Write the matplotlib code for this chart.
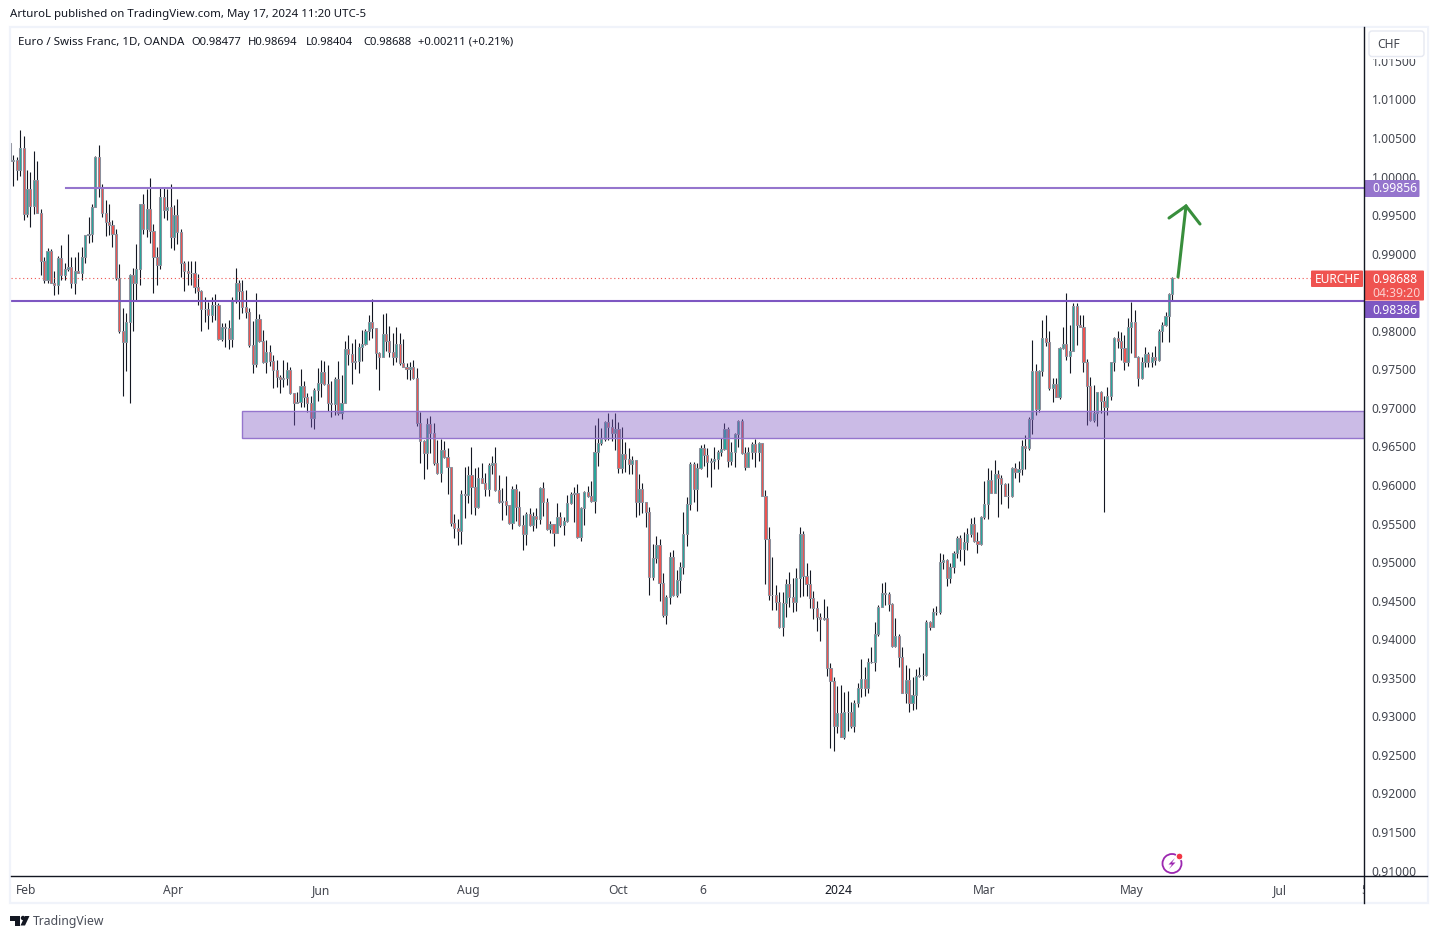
import matplotlib
matplotlib.use('Agg')
import matplotlib.pyplot as plt
import numpy as np
from matplotlib.patches import Rectangle, FancyBboxPatch, Circle, Polygon
from matplotlib.transforms import Bbox

plt.rcParams['font.family'] = ['Noto Sans', 'DejaVu Sans']

# Daily EURCHF, open is the previous close
first_open = 1.0044
close = [
    1.00202, 1.0021, 1.0009, 1.0037, .9951, .9984, .9962, .9995, .9953, .9890,
    .9866, .9903, .9862, .9859, .9894, .9872, .9880, .9883, .9862, .9877,
    .9875, .9896, .9924, .9926, .9961, 1.0025, .9985, .9953, .9941, .9937,
    .9926, .9868, .9800, .9786, .9811, .9872, .9862, .9880, .9964, .9932,
    .9958, .9929, .9896, .9886, .9973, .9957, .9960, .9922, .9950, .9928,
    .9888, .9878, .9875, .9875, .9857, .9851, .9828, .9828, .9820, .9834,
    .9833, .9789, .9805, .9804, .9789, .9839, .9862, .9852, .98304, .98248,
    .97816, .97569, .98149, .97872, .97600, .97721, .97613, .97491, .97396, .97370,
    .97392, .97491, .97189, .97068, .97072, .97288, .97146, .97068, .96865, .97232,
    .97327, .97470, .97306, .97068, .97046, .97370, .96938, .97068, .97768, .97695,
    .97600, .97608, .97785, .97824, .98002, .98110, .98032, .97716, .97665, .97954,
    .97872, .97729, .97665, .97824, .97587, .97535, .97500, .97526, .97392, .96808,
    .96575, .96411, .96787, .96679, .96281, .96151, .96450, .96359, .96229, .95503,
    .95438, .95408, .95879, .95875, .96125, .95978, .95719, .96086, .96031, .95953,
    .96260, .96282, .95936, .95785, .95789, .95737, .95512, .95944, .95720, .95486,
    .95361, .95620, .95482, .95603, .95564, .95966, .95785, .95434, .95491, .95382,
    .95581, .95477, .95538, .95763, .95880, .95893, .95331, .95698, .95906, .95862,
    .95797, .96424, .96550, .96602, .96813, .96757, .96671, .96727, .96217, .96398,
    .96338, .96273, .96321, .95785, .95944, .95780, .95646, .94812, .95054, .95218,
    .94725, .94315, .94544, .95063, .94578, .94764, .94941, .95361, .95750, .96269,
    .95944, .96217, .96476, .96390, .96303, .96316, .96333, .96433, .96463, .96722,
    .96316, .96433, .96662, .96830, .96411, .96238, .96424, .96528, .96424, .96541,
    .95862, .95296, .94569, .94569, .94479, .94154, .94466, .94712, .94552, .94487,
    .94790, .95360, .94820, .94712, .94539, .94401, .94284, .94267, .94275, .93623,
    .93463, .92879, .93039, .92737, .93052, .93056, .92879, .93169, .93363, .93480,
    .93372, .93700, .93709, .94068, .94414, .94595, .94587, .94453, .93912, .94042,
    .93774, .93307, .93471, .93177, .93277, .93523, .93532, .93532, .94219, .94154,
    .94349, .94349, .95000, .95029, .94790, .94933, .95114, .95309, .95166, .95266,
    .95361, .95491, .95279, .95236, .95581, .95750, .96065, .95901, .96143, .96087,
    .96009, .95862, .95862, .96217, .96174, .96204, .96511, .96485, .96852, .97475,
    .96982, .97475, .97903, .97851, .97263, .97306, .97146, .97773, .97825, .97678,
    .97743, .98322, .98076, .98054, .97600, .97289, .96844, .96939, .97202, .97094,
    .97017, .97159, .97592, .97911, .97873, .97782, .97600, .98054, .98110, .97665,
    .97393, .97592, .97695, .97592, .97665, .97622, .98000, .98076, .98192, .98477,
    .98688,
]
high = [
    1.0044, 1.0028, 1.0025, 1.0060, 1.0053, 1.0009, 1.0006, 1.0033, 1.0020, .9958,
    .9896, .9907, .9906, .9878, .9897, .9911, .9888, .9926, .9896, .9896,
    .9902, .9909, .9924, .9947, .9965, 1.0027, 1.0041, .9990, .9970, .9964,
    .9944, .9932, .9887, .9830, .9823, .9874, .9882, .9913, .9965, .9977,
    .9984, .9998, .9939, .9909, .9986, .9986, .9984, .9990, .9963, .9971,
    .9932, .9890, .9890, .9890, .9891, .9874, .9853, .9844, .9838, .9844,
    .9848, .9836, .9810, .9810, .9814, .9844, .9881, .9866, .9866, .9853,
    .98291, .98127, .98486, .98218, .98010, .97881, .97816, .97686, .97621, .97426,
    .97621, .97600, .97535, .97189, .97210, .97504, .97349, .97189, .97154, .97254,
    .97513, .97621, .97612, .97556, .97353, .97396, .97608, .97426, .97872, .97945,
    .97837, .97889, .97837, .98010, .98019, .98205, .98408, .98032, .97729, .98218,
    .98226, .98062, .97967, .98053, .97967, .97889, .97587, .97600, .97621, .97513,
    .96951, .96583, .96865, .96895, .96800, .96583, .96597, .96571, .96476, .96238,
    .95624, .95559, .95935, .96238, .96246, .96488, .96216, .96238, .96282, .96161,
    .96290, .96377, .96498, .96130, .95957, .96117, .95737, .95988, .96014, .95927,
    .95612, .95655, .95698, .95655, .95698, .95979, .96040, .95828, .95538, .95495,
    .95771, .95655, .95590, .95871, .95914, .95970, .96014, .95720, .95927, .95988,
    .96053, .96779, .96865, .96736, .96835, .96930, .96852, .96930, .96822, .96757,
    .96563, .96476, .96377, .96325, .96143, .96022, .95785, .95720, .95235, .95339,
    .95296, .94864, .94574, .95136, .95158, .94898, .94997, .95655, .95841, .96303,
    .96303, .96290, .96519, .96532, .96476, .96346, .96489, .96454, .96606, .96800,
    .96748, .96554, .96679, .96843, .96852, .96489, .96489, .96562, .96593, .96554,
    .96549, .95935, .95451, .95062, .94704, .94617, .94617, .94781, .94868, .94790,
    .94928, .95451, .95408, .94993, .94898, .94626, .94500, .94336, .94518, .94435,
    .93688, .93515, .93393, .93406, .93320, .93329, .93182, .93212, .93428, .93744,
    .93644, .93753, .93895, .94219, .94444, .94725, .94738, .94617, .94466, .94271,
    .94068, .93895, .93666, .93623, .93515, .93610, .93644, .93817, .94249, .94241,
    .94401, .94431, .95115, .95106, .95037, .94985, .95149, .95339, .95352, .95395,
    .95439, .95568, .95581, .95395, .95598, .96057, .96217, .96195, .96325, .96195,
    .96130, .96031, .96022, .96238, .96290, .96312, .96584, .96649, .96887, .97881,
    .97570, .97492, .98141, .98205, .97998, .97384, .97384, .97786, .98054, .98495,
    .98076, .98357, .98357, .98205, .98205, .97635, .97406, .97298, .97211, .97224,
    .97155, .97267, .97600, .97924, .97998, .97981, .97946, .98162, .98378, .98270,
    .97674, .97656, .97786, .97721, .97730, .97803, .98019, .98119, .98249, .98495,
    .98694,
]
low = [
    1.0020, .9988, .9996, 1.0001, .9944, .9948, .9935, .9951, .9953, .9872,
    .9862, .9862, .9862, .9847, .9848, .9866, .9866, .9878, .9855, .9848,
    .9875, .9866, .9888, .9914, .9915, .9961, .9973, .9947, .9923, .9924,
    .9909, .9866, .9797, .9715, .9748, .9707, .9800, .9839, .9859, .9926,
    .9922, .9914, .9849, .9859, .9880, .9946, .9944, .9907, .9905, .9913,
    .9870, .9852, .9859, .9859, .9849, .9833, .9800, .9812, .9803, .9812,
    .9814, .9788, .9787, .9779, .9777, .9779, .9836, .9815, .98235, .98161,
    .97794, .97457, .97535, .97859, .97587, .97448, .97543, .97254, .97275, .97197,
    .97275, .97297, .97180, .96783, .97068, .97007, .97016, .96951, .96757, .96731,
    .97094, .97137, .97297, .96964, .96886, .96908, .96908, .96852, .97059, .97556,
    .97310, .97500, .97457, .97613, .97816, .97881, .97902, .97504, .97232, .97665,
    .97742, .97665, .97556, .97600, .97556, .97526, .97370, .97362, .97370, .96765,
    .96290, .96078, .96208, .96411, .96259, .96143, .96039, .96346, .95883, .95468,
    .95308, .95222, .95235, .95568, .95771, .95624, .95611, .95697, .96022, .95858,
    .95858, .96143, .95927, .95771, .95547, .95612, .95495, .95434, .95538, .95469,
    .95158, .95222, .95469, .95408, .95439, .95495, .95599, .95417, .95382, .95210,
    .95374, .95460, .95352, .95525, .95754, .95525, .95309, .95274, .95482, .95849,
    .95785, .95642, .96247, .96519, .96576, .96584, .96576, .96455, .96152, .96152,
    .96174, .96143, .96143, .95590, .95612, .95633, .95460, .94574, .94768, .94993,
    .94496, .94293, .94194, .94457, .94565, .94552, .94604, .94846, .95214, .95676,
    .95785, .95668, .96204, .96251, .96109, .95979, .96203, .96203, .96376, .96454,
    .96238, .96260, .96238, .96497, .96402, .96195, .96229, .96337, .96229, .96316,
    .95858, .94716, .94509, .94379, .94379, .94142, .94042, .94293, .94414, .94357,
    .94366, .94552, .94561, .94561, .94401, .94262, .94111, .93981, .94250, .93523,
    .92594, .92555, .92788, .92728, .92710, .92814, .92844, .92801, .93126, .93255,
    .93264, .93298, .93696, .93588, .94042, .94414, .94444, .94371, .93904, .93904,
    .93644, .93298, .93169, .93060, .93082, .93095, .93515, .93471, .93528, .94120,
    .94228, .94315, .94323, .94911, .94695, .94725, .94864, .95050, .95019, .94963,
    .95158, .95331, .95266, .95123, .95222, .95555, .95560, .95893, .95893, .95590,
    .95754, .95858, .95707, .95849, .96087, .96044, .96130, .96208, .96454, .96662,
    .96908, .96952, .97414, .97803, .97233, .97081, .97137, .97116, .97764, .97622,
    .97457, .97739, .97816, .98045, .97470, .96779, .96835, .96822, .96770, .96930,
    .95655, .96908, .97103, .97479, .97773, .97622, .97492, .97544, .97708, .97656,
    .97285, .97375, .97535, .97535, .97535, .97557, .97613, .97859, .98063, .97859,
    .98404,
]

price_ticks = [0.91, 0.915, 0.92, 0.925, 0.93, 0.935, 0.94, 0.945, 0.95, 0.955, 0.96,
               0.965, 0.97, 0.975, 0.98, 0.99, 0.995, 1.0, 1.005, 1.01, 1.015]
time_pos = [4.7, 47.7, 91, 134, 178, 202.7, 242.2, 285, 328, 371.4]
time_labels = ['Feb', 'Apr', 'Jun', 'Aug', 'Oct', '6', '2024', 'Mar', 'May', 'Jul']
ohlc_parts = ['O0.98477', 'H0.98694', 'L0.98404', 'C0.98688', '+0.00211 (+0.21%)']

level_top = 0.99856
level_mid = 0.98386
last_price = 0.98688
zone_low, zone_high = 0.96610, 0.96955

TEXT = '#131722'
AXIS_TEXT = '#43464f'
TEAL = '#26a69a'
RED = '#ef5350'
GREY = '#8b8f9b'

W, H = 1438, 939
BAR_PX = 3.419
X0 = 9.9
LEFT, RIGHT, TOP, BOTTOM = 10.5, 1364, 27.5, 877


def to_x(px):
    return (px - X0) / BAR_PX


fig = plt.figure(figsize=(W / 100, H / 100), dpi=100, facecolor='white')
ax = fig.add_axes([LEFT / W, 1 - BOTTOM / H, (RIGHT - LEFT) / W, (BOTTOM - TOP) / H])
ax.set_xlim(to_x(LEFT), to_x(RIGHT))
ax.set_ylim(1 - (BOTTOM - 176.6) / 7711, 1 - (TOP - 176.6) / 7711)

close = np.array(close)
high = np.array(high)
low = np.array(low)
opens = np.r_[first_open, close[:-1]]
idx = np.arange(len(close))
colors = np.where(close >= opens, TEAL, RED)

ax.vlines(idx, low, high, color=TEXT, lw=0.8, zorder=2)
ax.bar(idx, close - opens, bottom=opens, width=2.1 / BAR_PX, color=colors,
       edgecolor=GREY, linewidth=0.75, zorder=3)

# zone and levels
ax.add_patch(Rectangle((to_x(242), zone_low), to_x(RIGHT) - to_x(242), zone_high - zone_low,
                       facecolor=(126 / 255, 87 / 255, 194 / 255, 0.4),
                       edgecolor='#9575cd', linewidth=1.0, zorder=4))
ax.plot([to_x(66), to_x(RIGHT)], [level_top, level_top], color='#9575cd', lw=1.5, zorder=5)
ax.axhline(level_mid, color='#7e57c2', lw=1.5, zorder=5)
ax.axhline(last_price, color=RED, lw=0.8, ls=(0, (1, 2.5)), zorder=2)

# hand drawn arrow
ax.plot([to_x(1178), to_x(1186)], [0.98698, 0.99619], color='#388e3c', lw=2.2, zorder=6,
        clip_on=False, solid_capstyle='round')
ax.plot([to_x(1169), to_x(1186), to_x(1200)], [0.99463, 0.99619, 0.99385], color='#388e3c', lw=2.2,
        zorder=6, solid_capstyle='round', solid_joinstyle='miter')

for s in ax.spines.values():
    s.set_visible(False)
ax.yaxis.tick_right()
ax.set_yticks(price_ticks)
ax.set_yticklabels(['%.5f' % p for p in price_ticks], fontsize=8.7, color=AXIS_TEXT)
ax.set_xticks(time_pos)
ax.set_xticklabels(time_labels, fontsize=8.7, color=AXIS_TEXT)
ax.get_xticklabels()[6].set_fontweight('bold')
ax.get_xticklabels()[6].set_color(TEXT)
ax.tick_params(axis='y', length=0, pad=5.5)
ax.tick_params(axis='x', length=0, pad=5.2)

# everything around the pane, in pixels
ov = fig.add_axes([0, 0, 1, 1], zorder=10)
ov.set_xlim(0, W)
ov.set_ylim(H, 0)
ov.axis('off')
ov.patch.set_alpha(0)

ov.add_patch(Rectangle((10, 26.5), 1418, 876.5, fill=False, edgecolor='#f0f3fa', lw=1.6))
ov.plot([10.5, 1427], [876, 876], color=TEXT, lw=1.0)
ov.plot([1364, 1364], [27, 903], color=TEXT, lw=1.0)

ov.text(10, 15, 'ArturoL published on TradingView.com, May 17, 2024 11:20 UTC-5', fontsize=8.25,
        color=TEXT, va='center')
ov.text(18, 42.5, 'Euro / Swiss Franc, 1D, OANDA', fontsize=8.3, color=TEXT, va='center')
for px, part in zip([191, 248, 306, 363, 418], ohlc_parts):
    ov.text(px, 42.5, part, fontsize=8.1, color=TEXT, va='center')

# currency button hides the top of the 1.01500 label
ov.add_patch(Rectangle((1365.5, 28), 61, 31, facecolor='white', edgecolor='none'))
ov.add_patch(FancyBboxPatch((1369, 31), 55, 25.5, boxstyle='round,pad=0,rounding_size=3',
                            facecolor='white', edgecolor='#e6e9f2', lw=1.0))
ov.text(1377, 44.5, 'CHF', fontsize=8.7, color=AXIS_TEXT, va='center')

# price tags
ov.add_patch(FancyBboxPatch((1364.5, 180), 55, 17, boxstyle='round,pad=0,rounding_size=1',
                            facecolor='#9575cd', edgecolor='none'))
ov.text(1372, 189, '%.5f' % level_top, fontsize=8.7, fontweight='bold', color='white', va='center')
ov.add_patch(FancyBboxPatch((1364.5, 301), 55, 17, boxstyle='round,pad=0,rounding_size=1',
                            facecolor='#7e57c2', edgecolor='none'))
ov.text(1372, 310, '%.5f' % level_mid, fontsize=8.7, fontweight='bold', color='white', va='center')
ov.add_patch(FancyBboxPatch((1364.5, 270.5), 59.5, 30, boxstyle='round,pad=0,rounding_size=1',
                            facecolor=RED, edgecolor='none'))
ov.text(1372, 279.5, '%.5f' % last_price, fontsize=8.7, fontweight='bold', color='white', va='center')
ov.text(1372, 293.5, '04:39:20', fontsize=8.7, color='#fbd0cf', va='center')
ov.add_patch(FancyBboxPatch((1311, 270.5), 52, 16.5, boxstyle='round,pad=0,rounding_size=1',
                            facecolor=RED, edgecolor='none'))
ov.text(1337, 279.5, 'EURCHF', fontsize=8.6, color='white', va='center', ha='center')

# the label cut by the price axis
t = ov.text(1364.5, 890, '5', fontsize=8.7, color=AXIS_TEXT, va='center', ha='center')
t.set_clip_box(Bbox([[0, 0], [1364, H]]))
t.set_clip_on(True)

# lightning icon
ov.add_patch(Circle((1172, 863.5), 9.5, fill=False, edgecolor='#9c27b0', lw=1.3))
ov.add_patch(Polygon([[1175, 858], [1168.5, 864.5], [1172, 864.5], [1169, 869], [1175.5, 862.5],
                      [1172, 862.5]], closed=True, facecolor='#9c27b0', edgecolor='none'))
ov.add_patch(Circle((1179.5, 856.5), 3.4, facecolor='#f23645', edgecolor='white', lw=0.8))

# TradingView mark
ov.add_patch(Polygon([[10, 916], [20, 916], [20, 925.5], [15, 925.5], [15, 920.5], [10, 920.5]],
                     closed=True, facecolor=TEXT, edgecolor='none'))
ov.add_patch(Circle((23, 918), 2.2, facecolor=TEXT, edgecolor='none'))
ov.add_patch(Polygon([[25, 916], [29.5, 916], [25, 925.5], [20.5, 925.5]], closed=True,
                     facecolor=TEXT, edgecolor='none'))
ov.text(33, 921.5, 'TradingView', fontsize=8.8, color='#4a4e59', va='center')

fig.savefig('out.png', dpi=100)
